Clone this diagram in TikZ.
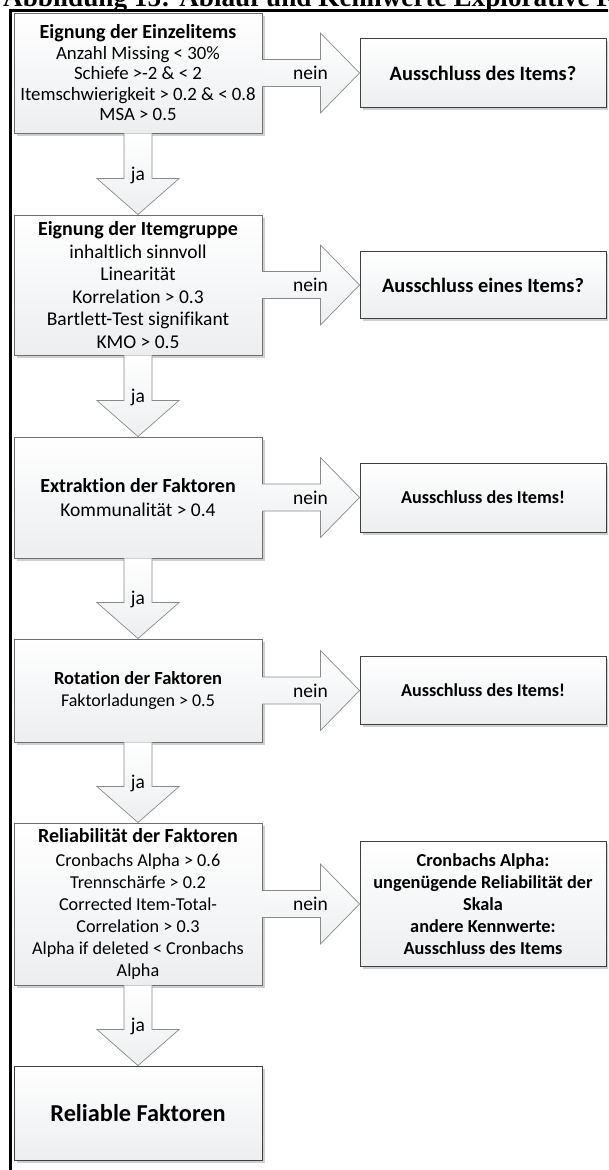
\documentclass[tikz,border=0pt]{standalone}
\usepackage{fontspec}
\setmainfont{Carlito}[Ligatures=CommonOff]
\newfontfamily\titelschrift{Liberation Serif}
\usetikzlibrary{calc,shadows}

\definecolor{rahmenlinks}{HTML}{707070}
\definecolor{rahmenrechts}{HTML}{404040}
\definecolor{pfeilrand}{HTML}{8A8A8A}
\definecolor{verlauf}{HTML}{ECEEF0}
\definecolor{schatten}{HTML}{CFCFCF}

\newcommand\kopfzeile{\fontsize{20}{24}\selectfont\bfseries}

\tikzset{
  kasten/.style={draw=rahmenlinks, line width=0.9pt, top color=white, bottom color=verlauf,
    minimum width=248pt, align=center, inner sep=2pt,
    drop shadow={shadow xshift=2.5pt, shadow yshift=-2.5pt, fill=schatten, opacity=1}},
  ergebnis/.style={kasten, draw=rahmenrechts, minimum width=246pt},
  pfeil/.style={draw=pfeilrand, line width=0.7pt, top color=white, bottom color=verlauf, line join=miter},
  marke/.style={font=\fontsize{19.5}{22}\selectfont, inner sep=0pt},
  rahmenlinie/.style={line width=2.7pt, black},
}

% horizontal block arrow "nein" from a step box to its result box
\newcommand\neinpfeil[2]{%
  \draw[pfeil] ($(#1.east)+(0pt,13.5pt)$) -- ($(#1.east)+(58pt,13.5pt)$)
    -- ($(#1.east)+(58pt,40pt)$) -- (#2.west) -- ($(#1.east)+(58pt,-40pt)$)
    -- ($(#1.east)+(58pt,-13.5pt)$) -- ($(#1.east)+(0pt,-13.5pt)$);
  \node[marke] at ($(#1.east)+(48pt,0pt)$) {nein};
}
% vertical block arrow "ja" from one step box to the next
\newcommand\japfeil[2]{%
  \draw[pfeil] ($(#1.south)+(-14pt,0pt)$) -- ($(#2.north)+(-14pt,36pt)$)
    -- ($(#2.north)+(-41pt,36pt)$) -- (#2.north) -- ($(#2.north)+(41pt,36pt)$)
    -- ($(#2.north)+(14pt,36pt)$) -- ($(#1.south)+(14pt,0pt)$);
  \node[marke] at ($(#2.north)+(0pt,39pt)$) {ja};
}

\begin{document}
\begin{tikzpicture}[x=1pt, y=-1pt]
\useasboundingbox (0,0) rectangle (608,1170);
\clip (0,0) rectangle (608,1170);

% caption line and page frame
\node[anchor=base west, inner sep=0pt, font=\titelschrift\bfseries\fontsize{27.2}{31}\selectfont] (titel) at (3,6.5)
  {Abbildung 15: Ablauf und Kennwerte Explorative Faktorenanalyse};
\coordinate (fu) at (10.7,1180);
\coordinate (fe) at (10.7,10.7);
\coordinate (fr) at (620,10.7);
\draw[rahmenlinie] (fu) -- (fe) -- (fr);

% steps
\node[kasten, minimum height=120pt, font=\fontsize{18.8}{20.5}\selectfont] (b1) at (138,73)
  {{\kopfzeile Eignung der Einzelitems}\\Anzahl Missing < 30\%\\Schiefe >-2 \& < 2\\Itemschwierigkeit > 0.2 \& < 0.8\\MSA > 0.5};
\node[kasten, minimum height=140pt, font=\fontsize{19.5}{22.6}\selectfont] (b2) at (138,285)
  {{\kopfzeile Eignung der Itemgruppe}\\inhaltlich sinnvoll\\Linearität\\Korrelation > 0.3\\Bartlett-Test signifikant\\KMO > 0.5};
\node[kasten, minimum height=121pt, font=\fontsize{19.5}{24}\selectfont] (b3) at (138,497.5)
  {{\kopfzeile Extraktion der Faktoren}\\Kommunalität > 0.4};
\node[kasten, minimum height=103pt, font=\fontsize{18}{22}\selectfont] (b4) at (138,690.5)
  {{\fontsize{18.5}{22}\selectfont\bfseries Rotation der Faktoren}\\Faktorladungen > 0.5};
\node[kasten, minimum height=162pt, font=\fontsize{18.2}{22}\selectfont] (b5) at (138,904)
  {{\kopfzeile Reliabilität der Faktoren}\\[2pt]Cronbachs Alpha > 0.6\\Trennschärfe > 0.2\\Corrected Item-Total-\\Correlation > 0.3\\Alpha if deleted < Cronbachs\\Alpha};
\node[kasten, draw=rahmenrechts, minimum height=94pt, font=\fontsize{24.3}{28}\selectfont\bfseries] (b6) at (138,1113)
  {Reliable Faktoren};

% outcomes
\node[ergebnis, minimum height=69pt, font=\fontsize{20.4}{24}\selectfont\bfseries] (r1) at (483,73)
  {Ausschluss des Items?};
\node[ergebnis, minimum height=67pt, font=\fontsize{20.4}{24}\selectfont\bfseries] (r2) at (483,285)
  {Ausschluss eines Items?};
\node[ergebnis, minimum height=69pt, font=\fontsize{18.2}{22}\selectfont\bfseries] (r3) at (483,497.5)
  {Ausschluss des Items!};
\node[ergebnis, minimum height=68pt, font=\fontsize{18.2}{22}\selectfont\bfseries] (r4) at (483,690.5)
  {Ausschluss des Items!};
\node[ergebnis, minimum height=125pt, font=\fontsize{18.3}{22}\selectfont\bfseries] (r5) at (483,904)
  {Cronbachs Alpha:\\ungenügende Reliabilität der\\Skala\\andere Kennwerte:\\Ausschluss des Items};

% connectors
\neinpfeil{b1}{r1}
\neinpfeil{b2}{r2}
\neinpfeil{b3}{r3}
\neinpfeil{b4}{r4}
\neinpfeil{b5}{r5}
\japfeil{b1}{b2}
\japfeil{b2}{b3}
\japfeil{b3}{b4}
\japfeil{b4}{b5}
\japfeil{b5}{b6}
\end{tikzpicture}
\end{document}
